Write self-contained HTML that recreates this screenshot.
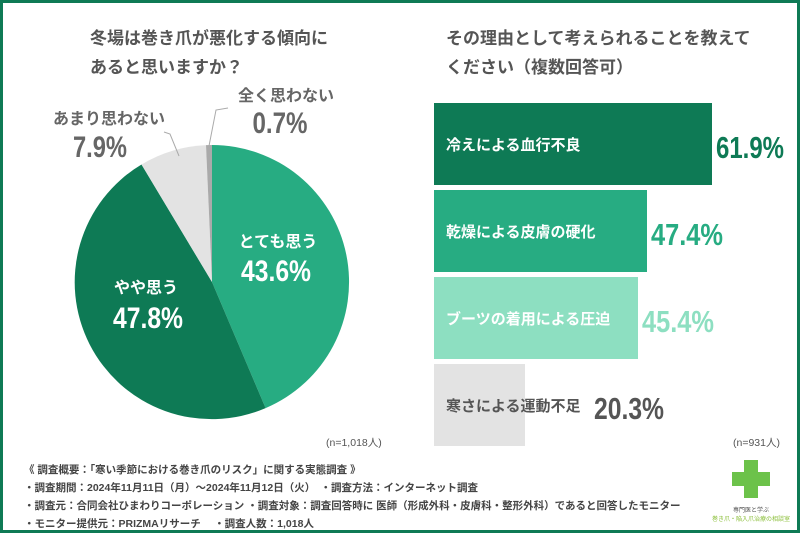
<!DOCTYPE html>
<html><head><meta charset="utf-8"><style>
html,body{margin:0;padding:0;background:#fff}
svg{display:block}
text{font-family:"Liberation Sans","Noto Sans CJK JP",sans-serif}
</style></head><body>
<svg width="800" height="533" viewBox="0 0 800 533" xmlns="http://www.w3.org/2000/svg">
<rect x="0" y="0" width="800" height="533" fill="#fff"/>
<rect x="1.5" y="1.5" width="797" height="530" fill="none" stroke="#0e7a55" stroke-width="3"/>
<g font-weight="bold" fill="#555" font-size="17">
<text x="90" y="44">冬場は巻き爪が悪化する傾向に</text>
<text x="90" y="73">あると思いますか？</text>
<text x="446" y="44">その理由として考えられることを教えて</text>
<text x="446" y="73">ください（複数回答可）</text>
</g>
<path d="M212,282 L212,145 A137,137 0 0 1 265.6,408.1 Z" fill="#27ac82"/>
<path d="M212,282 L265.6,408.1 A137,137 0 0 1 141.5,164.5 Z" fill="#0e7a55"/>
<path d="M212,282 L141.5,164.5 A137,137 0 0 1 206,145.1 Z" fill="#e3e3e3"/>
<path d="M212,282 L206,145.1 A137,137 0 0 1 212,145 Z" fill="#aaa"/>
<polyline points="179,156 170,134 164,132" fill="none" stroke="#aaa" stroke-width="1"/>
<polyline points="209,146 216,110 228,108" fill="none" stroke="#aaa" stroke-width="1"/>
<g font-weight="bold" text-anchor="middle">
<text x="109" y="124" fill="#666" font-size="16">あまり思わない</text>
<text x="100" y="157" fill="#666" font-size="30" textLength="54" lengthAdjust="spacingAndGlyphs">7.9%</text>
<text x="286" y="101" fill="#666" font-size="16">全く思わない</text>
<text x="280" y="133" fill="#666" font-size="30" textLength="55" lengthAdjust="spacingAndGlyphs">0.7%</text>
<text x="278" y="247" fill="#fff" font-size="16">とても思う</text>
<text x="276" y="281" fill="#fff" font-size="30" textLength="70" lengthAdjust="spacingAndGlyphs">43.6%</text>
<text x="146" y="293" fill="#fff" font-size="16">やや思う</text>
<text x="148" y="328" fill="#fff" font-size="30" textLength="70" lengthAdjust="spacingAndGlyphs">47.8%</text>
</g>
<text x="326" y="446" fill="#555" font-size="10.5">(n=1,018人)</text>
<rect x="434" y="103" width="278" height="82" fill="#0e7a55"/>
<rect x="434" y="190" width="213" height="82" fill="#27ac82"/>
<rect x="434" y="277" width="204" height="82" fill="#8ddfc1"/>
<rect x="434" y="364" width="91" height="82" fill="#e3e3e3"/>
<g font-weight="bold" font-size="15">
<text x="446" y="150" fill="#fff">冷えによる血行不良</text>
<text x="446" y="237" fill="#fff">乾燥による皮膚の硬化</text>
<text x="446" y="324" fill="#fff">ブーツの着用による圧迫</text>
<text x="446" y="411" fill="#555">寒さによる運動不足</text>
</g>
<g font-weight="bold" font-size="31">
<text x="716" y="158" fill="#0e7a55" textLength="68" lengthAdjust="spacingAndGlyphs">61.9%</text>
<text x="651" y="245" fill="#27ac82" textLength="72" lengthAdjust="spacingAndGlyphs">47.4%</text>
<text x="642" y="332" fill="#8ddfc1" textLength="72" lengthAdjust="spacingAndGlyphs">45.4%</text>
<text x="594" y="419" fill="#555" textLength="70" lengthAdjust="spacingAndGlyphs">20.3%</text>
</g>
<text x="733" y="446" fill="#555" font-size="10.5">(n=931人)</text>
<g fill="#444" font-size="10.5" font-weight="bold">
<text x="24" y="473">《 調査概要：「寒い季節における巻き爪のリスク」に関する実態調査 》</text>
<text x="24" y="491">・調査期間：2024年11月11日（月）～2024年11月12日（火）　・調査方法：インターネット調査</text>
<text x="24" y="509">・調査元：合同会社ひまわりコーポレーション ・調査対象：調査回答時に 医師（形成外科・皮膚科・整形外科）であると回答したモニター</text>
<text x="24" y="527">・モニター提供元：PRIZMAリサーチ　 ・調査人数：1,018人</text>
</g>
<path d="M744,460 h14 v12 h12 v14 h-12 v12 h-14 v-12 h-12 v-14 h12 Z" fill="#6cc24a"/>
<text x="751" y="512" text-anchor="middle" font-size="6" fill="#555">専門医と学ぶ</text>
<text x="751" y="521" text-anchor="middle" font-size="6" fill="#8bbf3a">巻き爪・陥入爪治療の相談室</text>
</svg>
</body></html>
